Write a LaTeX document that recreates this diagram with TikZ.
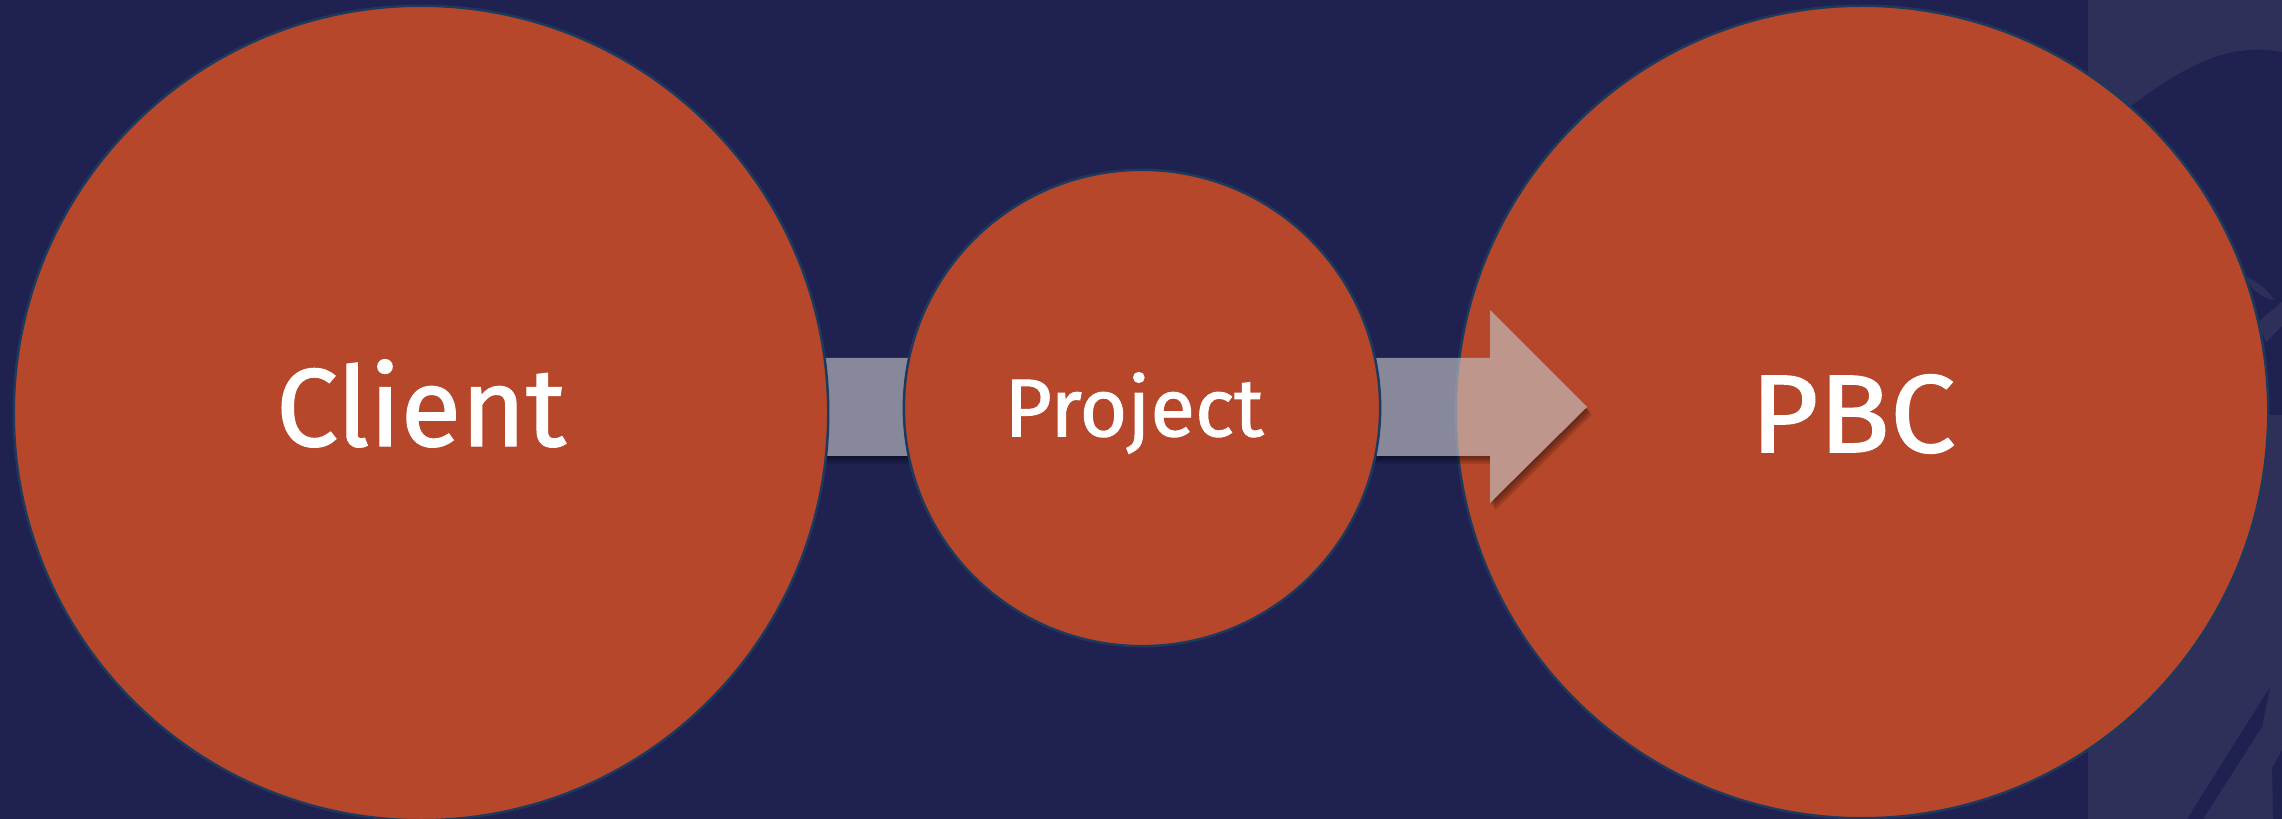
\documentclass[tikz,border=0pt]{standalone}
\usepackage{fontspec}
\setmainfont{Fira Sans}
\newfontfamily\lblfont{Fira Sans}[FakeBold=1.2]
\definecolor{bg}{HTML}{1F2251}
\definecolor{stripc}{HTML}{2F3059}
\definecolor{orng}{HTML}{B7472A}
\definecolor{rim}{HTML}{1D3A5E}
\definecolor{arr}{RGB}{195,195,196}
\newcommand\fsbig{\lblfont\fontsize{31.5pt}{38pt}\selectfont}
\newcommand\fsmid{\lblfont\fontsize{23.3pt}{28pt}\selectfont}
\begin{document}
\begin{tikzpicture}[x=0.01cm,y=-0.01cm,
  bubble/.style={circle,fill=orng,draw=rim,line width=0.7pt,inner sep=0pt},
  lbl/.style={text=white,inner sep=0pt},
  shadowfill/.style={fill=black,opacity=0.12},
  arrowfill/.style={fill=arr,opacity=0.64}]
\useasboundingbox (0,0) rectangle (2282,819);
% background
\fill[bg] (0,0) rectangle (2282,819);
\fill[stripc] (2088,0) rectangle (2282,819);
\fill[bg] (2100,130) .. controls (2170,75) and (2220,40) .. (2282,52) -- (2282,415) -- (2150,415) -- cycle;
\fill[stripc] (2258,322) -- (2282,302) -- (2282,326) -- (2266,342) -- cycle;
\fill[stripc] (2245,276) .. controls (2258,282) and (2268,290) .. (2274,300) .. controls (2265,299) and (2255,292) .. (2250,285) -- cycle;
\fill[bg] (2270,687) -- (2262,727) -- (2203,819) -- (2187,819) -- cycle;
\fill[bg] (2282,750) -- (2272,768) -- (2273,819) -- (2282,819) -- cycle;
% PBC circle
\node[bubble,minimum size=8.12cm] (pbc) at (1862,412) {};
\node[lbl,font=\fsbig,xscale=1.06] (pbct) at ([xshift=-0.09cm,yshift=-0.02cm]pbc.center) {PBC};
% arrow shadow
\begin{scope}[even odd rule]
\clip (0,0) rectangle (2282,819)
  (600,358) -- (1490,358) -- (1490,310) -- (1587,407) -- (1490,503) -- (1490,456) -- (600,456) -- cycle;
\foreach \d in {2,4,6,8}
  \fill[shadowfill,shift={(0.6*\d,\d)}] (600,358) -- (1490,358) -- (1490,310) -- (1587,407) -- (1490,503) -- (1490,456) -- (600,456) -- cycle;
\end{scope}
% arrow
\fill[arrowfill] (600,358) -- (1490,358) -- (1490,310) -- (1587,407) -- (1490,503) -- (1490,456) -- (600,456) -- cycle;
% Client and Project circles
\node[bubble,minimum size=8.14cm] (client) at (421,413) {};
\node[lbl,font=\fsbig] (clientt) at ([yshift=0.095cm]client.center) {Client};
\node[bubble,minimum size=4.76cm] (project) at (1142,408) {};
\node[lbl,font=\fsmid] (projectt) at ([xshift=-0.08cm,yshift=-0.05cm]project.center) {Project};
\end{tikzpicture}
\end{document}
